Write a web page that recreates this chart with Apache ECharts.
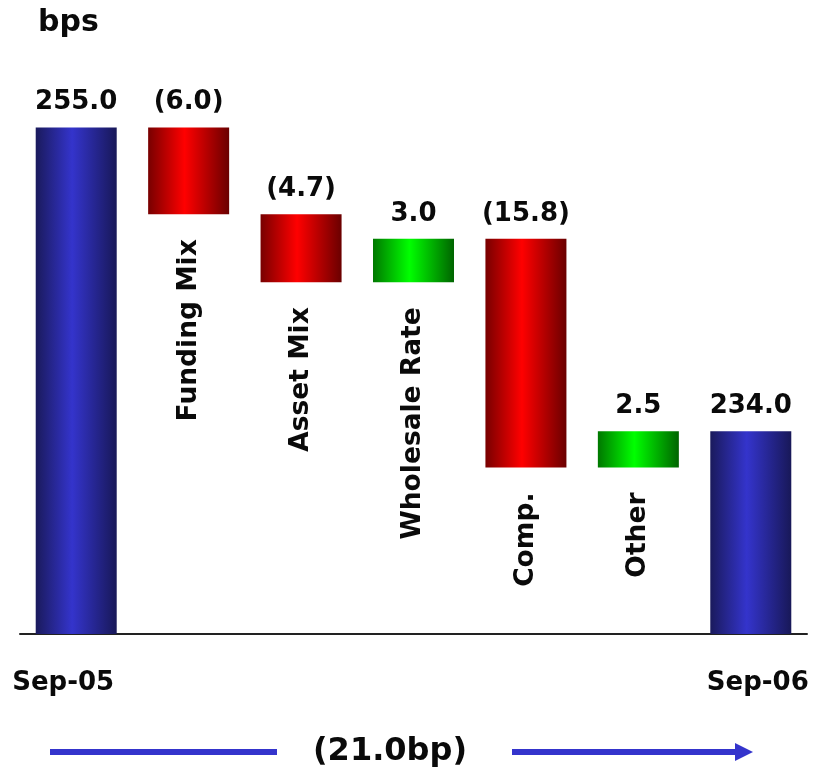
<!DOCTYPE html>
<html>
<head>
<meta charset="utf-8">
<script src="https://cdn.jsdelivr.net/npm/echarts@6/dist/echarts.min.js"></script>
<style>html,body{margin:0;padding:0;background:#fff}#c{width:813px;height:772px}</style>
</head>
<body>
<div id="c"></div>
<script>
const categories = ['Sep-05', 'Funding Mix', 'Asset Mix', 'Wholesale Rate', 'Comp.', 'Other', 'Sep-06'];
const totals     = [255.0, '-', '-', '-', '-', '-', 234.0];
const changes    = ['-', -6.0, -4.7, 3.0, -15.8, 2.5, '-'];
const totalChangeLabel = '(21.0bp)';
const unitLabel = 'bps';

// derive waterfall pieces from the data
const base = [], decrease = [], increase = [];
let running = totals[0];
categories.forEach((c, i) => {
  const ch = changes[i];
  if (ch === '-') { base.push('-'); decrease.push('-'); increase.push('-'); return; }
  if (ch < 0) { running += ch; base.push(+running.toFixed(2)); decrease.push(-ch); increase.push('-'); }
  else { base.push(+running.toFixed(2)); increase.push(ch); decrease.push('-'); running += ch; }
});

const FONT = 'DejaVu Sans';
function grad(dark, bright, dark2) {
  return new echarts.graphic.LinearGradient(0, 0, 1, 0, [
    { offset: 0, color: dark }, { offset: 0.45, color: bright }, { offset: 1, color: dark2 }
  ]);
}
const valLabel = {
  show: true, position: 'top', distance: 12,
  fontFamily: FONT, fontWeight: 'bold', fontSize: 26, color: '#0a0a0a'
};

const chart = echarts.init(document.getElementById('c'), null, { renderer: 'canvas' });
chart.setOption({
  animation: false,
  grid: { left: 20, right: 6, top: 55, bottom: 138 },
  xAxis: {
    type: 'category', data: categories,
    axisLine: { lineStyle: { color: '#222', width: 2 } },
    axisTick: { show: false },
    axisLabel: {
      interval: 0, margin: 36,
      formatter: (v, i) => (i === 0 ? '{l|' + v + '}' : i === categories.length - 1 ? '{r|' + v + '}' : ''),
      rich: {
        l: { fontFamily: FONT, fontWeight: 'bold', fontSize: 26, color: '#0a0a0a', padding: [0, 26, 0, 0] },
        r: { fontFamily: FONT, fontWeight: 'bold', fontSize: 26, color: '#0a0a0a', padding: [0, 0, 0, 14] }
      }
    }
  },
  yAxis: { type: 'value', min: 220, max: 260, show: false, splitLine: { show: false } },
  series: [
    {
      name: 'total', type: 'bar', stack: 'tot', barWidth: 81, barGap: '-100%',
      data: totals,
      itemStyle: { color: grad('#1a1a5c', '#3434cc', '#181858') },
      label: Object.assign({}, valLabel, { formatter: p => p.value.toFixed(1) })
    },
    {
      name: 'base', type: 'bar', stack: 'wf', barWidth: 81,
      data: base,
      itemStyle: { color: 'transparent' },
      label: {
        show: true, position: 'insideTop', distance: 22, rotate: 90,
        align: 'right', verticalAlign: 'middle', offset: [-3, 0],
        formatter: p => categories[p.dataIndex],
        fontFamily: FONT, fontWeight: 'bold', fontSize: 26.5, color: '#0a0a0a'
      }
    },
    {
      name: 'decrease', type: 'bar', stack: 'wf', barWidth: 81,
      data: decrease,
      itemStyle: { color: grad('#780000', '#ff0000', '#6a0000') },
      label: Object.assign({}, valLabel, { formatter: p => '(' + p.value.toFixed(1) + ')' })
    },
    {
      name: 'increase', type: 'bar', stack: 'wf', barWidth: 81,
      data: increase,
      itemStyle: { color: grad('#007800', '#00ff00', '#006400') },
      label: Object.assign({}, valLabel, { formatter: p => p.value.toFixed(1) })
    }
  ],
  graphic: [
    { type: 'text', left: 38, top: 8, style: { text: unitLabel, font: 'bold 30px "DejaVu Sans"', fill: '#0a0a0a' } },
    { type: 'text', x: 390, y: 752, style: { text: totalChangeLabel, font: 'bold 32px "DejaVu Sans"', fill: '#0a0a0a', align: 'center', verticalAlign: 'middle' } },
    { type: 'line', shape: { x1: 50, y1: 752, x2: 277, y2: 752 }, style: { stroke: '#3434cc', lineWidth: 6 } },
    { type: 'line', shape: { x1: 512, y1: 752, x2: 738, y2: 752 }, style: { stroke: '#3434cc', lineWidth: 6 } },
    { type: 'polygon', shape: { points: [[735, 743], [753, 752], [735, 761]] }, style: { fill: '#3434cc' } }
  ]
});
</script>
</body>
</html>
